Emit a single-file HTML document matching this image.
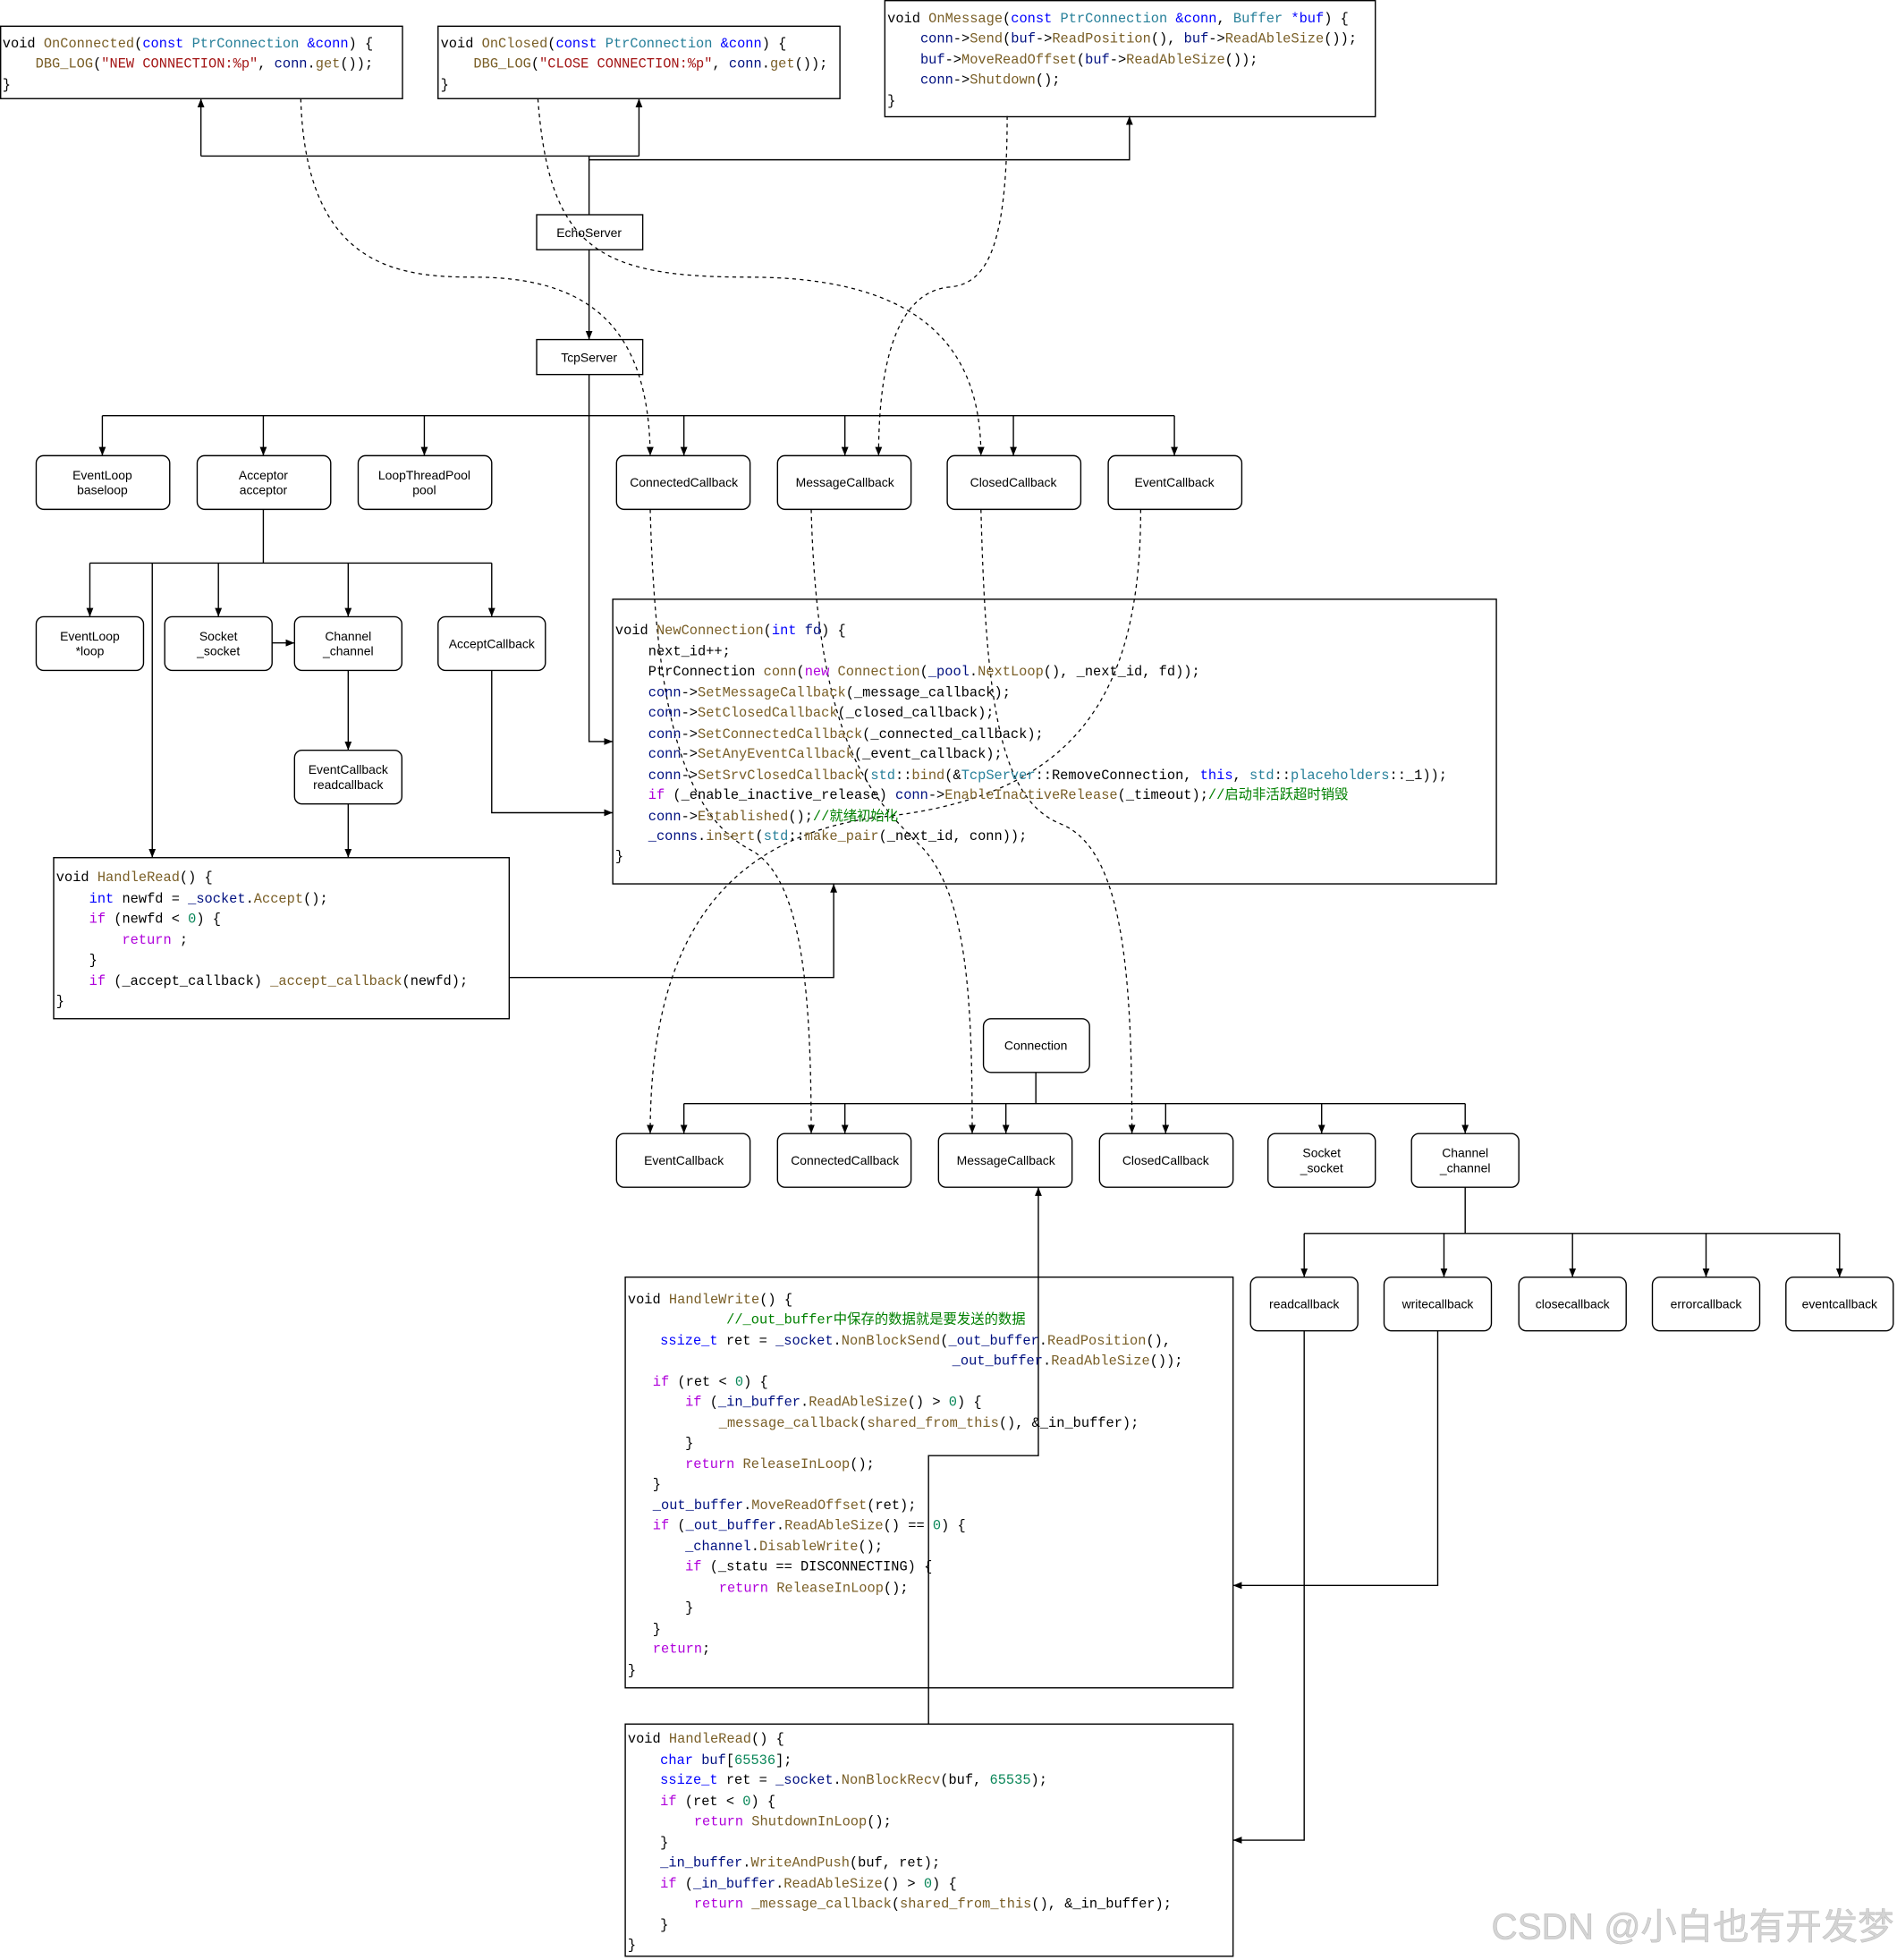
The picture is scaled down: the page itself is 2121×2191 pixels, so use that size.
<!DOCTYPE html>
<html><head><meta charset="utf-8"><style>
html,body{margin:0;padding:0;background:#fff;}
svg{display:block}
.m{font-family:"Liberation Mono","Noto Sans CJK SC",monospace;font-size:11px;fill:#000;white-space:pre}
.l{font-family:"Liberation Sans",sans-serif;font-size:10px;fill:#000;text-anchor:middle}
.k{fill:#af00db}.f{fill:#795e26}.t{fill:#0000ff}.c{fill:#267f99}.v{fill:#001080}.s{fill:#a31515}.n{fill:#098658}.g{fill:#008000}
.b{fill:#fff;stroke:#000;stroke-width:1}
.e{fill:none;stroke:#000;stroke-width:1}
.d{fill:none;stroke:#000;stroke-width:0.9;stroke-dasharray:3,3}
</style></head><body>
<svg width="2121" height="2191" viewBox="0 0 1520 1570" preserveAspectRatio="none" xmlns="http://www.w3.org/2000/svg">
<defs><marker id="a" viewBox="0 0 10 10" refX="10" refY="5" markerWidth="7" markerHeight="7" orient="auto" markerUnits="userSpaceOnUse"><path d="M0,1 L10,5 L0,9 Z" fill="#000"/></marker></defs>

<rect class="b" x="0.5" y="21" width="322" height="58"/>
<rect class="b" x="351" y="21" width="322" height="58"/>
<rect class="b" x="709" y="0.5" width="393" height="93"/>
<rect class="b" x="430" y="172" width="85" height="28"/>
<rect class="b" x="430" y="272" width="85" height="28"/>
<rect class="b" x="491" y="480" width="708" height="228"/>
<rect class="b" x="43" y="687" width="365" height="129"/>
<rect class="b" x="501" y="1023" width="487" height="329"/>
<rect class="b" x="501" y="1381" width="487" height="186"/>

<g class="b">
<rect x="29" y="365" width="107" height="43" rx="6"/>
<rect x="158" y="365" width="107" height="43" rx="6"/>
<rect x="287" y="365" width="107" height="43" rx="6"/>
<rect x="494" y="365" width="107" height="43" rx="6"/>
<rect x="623" y="365" width="107" height="43" rx="6"/>
<rect x="759" y="365" width="107" height="43" rx="6"/>
<rect x="888" y="365" width="107" height="43" rx="6"/>
<rect x="29" y="494" width="86" height="43" rx="6"/>
<rect x="132" y="494" width="86" height="43" rx="6"/>
<rect x="236" y="494" width="86" height="43" rx="6"/>
<rect x="351" y="494" width="86" height="43" rx="6"/>
<rect x="236" y="601" width="86" height="43" rx="6"/>
<rect x="788" y="816" width="85" height="43" rx="6"/>
<rect x="494" y="908" width="107" height="43" rx="6"/>
<rect x="623" y="908" width="107" height="43" rx="6"/>
<rect x="752" y="908" width="107" height="43" rx="6"/>
<rect x="881" y="908" width="107" height="43" rx="6"/>
<rect x="1016" y="908" width="86" height="43" rx="6"/>
<rect x="1131" y="908" width="86" height="43" rx="6"/>
<rect x="1002" y="1023" width="86" height="43" rx="6"/>
<rect x="1109" y="1023" width="86" height="43" rx="6"/>
<rect x="1217" y="1023" width="86" height="43" rx="6"/>
<rect x="1324" y="1023" width="86" height="43" rx="6"/>
<rect x="1431" y="1023" width="86" height="43" rx="6"/>
</g>

<g class="e">
<path d="M472,172 V125 M161,125 H512" />
<path d="M161,125 V79" marker-end="url(#a)"/>
<path d="M512,125 V79" marker-end="url(#a)"/>
<path d="M472,128 H905 V93" marker-end="url(#a)"/>
<path d="M472,200 V272" marker-end="url(#a)"/>
<path d="M472,300 V333 M82,333 H941"/>
<path d="M82,333 V365" marker-end="url(#a)"/>
<path d="M211,333 V365" marker-end="url(#a)"/>
<path d="M340,333 V365" marker-end="url(#a)"/>
<path d="M548,333 V365" marker-end="url(#a)"/>
<path d="M677,333 V365" marker-end="url(#a)"/>
<path d="M812,333 V365" marker-end="url(#a)"/>
<path d="M941,333 V365" marker-end="url(#a)"/>
<path d="M472,333 V594 H491" marker-end="url(#a)"/>
<path d="M211,408 V451 M72,451 H394"/>
<path d="M72,451 V494" marker-end="url(#a)"/>
<path d="M175,451 V494" marker-end="url(#a)"/>
<path d="M279,451 V494" marker-end="url(#a)"/>
<path d="M394,451 V494" marker-end="url(#a)"/>
<path d="M122,451 V687" marker-end="url(#a)"/>
<path d="M218,515 H236" marker-end="url(#a)"/>
<path d="M279,537 V601" marker-end="url(#a)"/>
<path d="M279,644 V687" marker-end="url(#a)"/>
<path d="M394,537 V651 H491" marker-end="url(#a)"/>
<path d="M408,783 H668 V708" marker-end="url(#a)"/>
<path d="M830,859 V884 M548,884 H1174"/>
<path d="M548,884 V908" marker-end="url(#a)"/>
<path d="M677,884 V908" marker-end="url(#a)"/>
<path d="M806,884 V908" marker-end="url(#a)"/>
<path d="M934,884 V908" marker-end="url(#a)"/>
<path d="M1059,884 V908" marker-end="url(#a)"/>
<path d="M1174,884 V908" marker-end="url(#a)"/>
<path d="M1174,951 V988 M1045,988 H1474"/>
<path d="M1045,988 V1023" marker-end="url(#a)"/>
<path d="M1157,988 V1023" marker-end="url(#a)"/>
<path d="M1260,988 V1023" marker-end="url(#a)"/>
<path d="M1367,988 V1023" marker-end="url(#a)"/>
<path d="M1474,988 V1023" marker-end="url(#a)"/>
<path d="M1152,1066 V1270 H988" marker-end="url(#a)"/>
<path d="M1045,1066 V1474 H988" marker-end="url(#a)"/>
<path d="M744,1381 V1166 H832 V951" marker-end="url(#a)"/>
</g>

<g class="d">
<path d="M241,79 C245,215 320,222 380,222 C470,222 520,260 521,365" marker-end="url(#a)"/>
<path d="M431,79 C440,200 480,222 600,222 C740,222 786,280 786,365" marker-end="url(#a)"/>
<path d="M807,93 C807,200 790,228 760,230 C715,235 704,300 704,365" marker-end="url(#a)"/>
<path d="M521,408 C525,560 545,650 600,680 C640,700 650,780 650,908" marker-end="url(#a)"/>
<path d="M650,408 C655,600 700,640 740,680 C775,720 779,800 779,908" marker-end="url(#a)"/>
<path d="M786,408 C790,560 800,640 850,660 C900,680 907,780 907,908" marker-end="url(#a)"/>
<path d="M914,408 C914,560 860,640 700,655 C560,675 521,780 521,908" marker-end="url(#a)"/>
</g>

<text class="l" x="472" y="190">EchoServer</text>
<text class="l" x="472" y="290">TcpServer</text>
<text class="l" x="82" y="384">EventLoop</text><text class="l" x="82" y="396">baseloop</text>
<text class="l" x="211" y="384">Acceptor</text><text class="l" x="211" y="396">acceptor</text>
<text class="l" x="340" y="384">LoopThreadPool</text><text class="l" x="340" y="396">pool</text>
<text class="l" x="548" y="390">ConnectedCallback</text>
<text class="l" x="677" y="390">MessageCallback</text>
<text class="l" x="812" y="390">ClosedCallback</text>
<text class="l" x="941" y="390">EventCallback</text>
<text class="l" x="72" y="513">EventLoop</text><text class="l" x="72" y="525">*loop</text>
<text class="l" x="175" y="513">Socket</text><text class="l" x="175" y="525">_socket</text>
<text class="l" x="279" y="513">Channel</text><text class="l" x="279" y="525">_channel</text>
<text class="l" x="394" y="519">AcceptCallback</text>
<text class="l" x="279" y="620">EventCallback</text><text class="l" x="279" y="632">readcallback</text>
<text class="l" x="830" y="841">Connection</text>
<text class="l" x="548" y="933">EventCallback</text>
<text class="l" x="677" y="933">ConnectedCallback</text>
<text class="l" x="806" y="933">MessageCallback</text>
<text class="l" x="934" y="933">ClosedCallback</text>
<text class="l" x="1059" y="927">Socket</text><text class="l" x="1059" y="939">_socket</text>
<text class="l" x="1174" y="927">Channel</text><text class="l" x="1174" y="939">_channel</text>
<text class="l" x="1045" y="1048">readcallback</text>
<text class="l" x="1152" y="1048">writecallback</text>
<text class="l" x="1260" y="1048">closecallback</text>
<text class="l" x="1367" y="1048">errorcallback</text>
<text class="l" x="1474" y="1048">eventcallback</text>

<g class="m">
<text x="2" y="38">void <tspan class="f">OnConnected</tspan>(<tspan class="t">const</tspan> <tspan class="c">PtrConnection</tspan> <tspan class="t">&amp;conn</tspan>) {</text>
<text x="2" y="54">&#160;&#160;&#160;&#160;<tspan class="f">DBG_LOG</tspan>(<tspan class="s">"NEW CONNECTION:%p"</tspan>, <tspan class="v">conn</tspan>.<tspan class="f">get</tspan>());</text>
<text x="2" y="71">}</text>

<text x="353" y="38">void <tspan class="f">OnClosed</tspan>(<tspan class="t">const</tspan> <tspan class="c">PtrConnection</tspan> <tspan class="t">&amp;conn</tspan>) {</text>
<text x="353" y="54">&#160;&#160;&#160;&#160;<tspan class="f">DBG_LOG</tspan>(<tspan class="s">"CLOSE CONNECTION:%p"</tspan>, <tspan class="v">conn</tspan>.<tspan class="f">get</tspan>());</text>
<text x="353" y="71">}</text>

<text x="711" y="18">void <tspan class="f">OnMessage</tspan>(<tspan class="t">const</tspan> <tspan class="c">PtrConnection</tspan> <tspan class="t">&amp;conn</tspan>, <tspan class="c">Buffer</tspan> <tspan class="t">*buf</tspan>) {</text>
<text x="711" y="34">&#160;&#160;&#160;&#160;<tspan class="v">conn</tspan>-&gt;<tspan class="f">Send</tspan>(<tspan class="v">buf</tspan>-&gt;<tspan class="f">ReadPosition</tspan>(), <tspan class="v">buf</tspan>-&gt;<tspan class="f">ReadAbleSize</tspan>());</text>
<text x="711" y="51">&#160;&#160;&#160;&#160;<tspan class="v">buf</tspan>-&gt;<tspan class="f">MoveReadOffset</tspan>(<tspan class="v">buf</tspan>-&gt;<tspan class="f">ReadAbleSize</tspan>());</text>
<text x="711" y="67">&#160;&#160;&#160;&#160;<tspan class="v">conn</tspan>-&gt;<tspan class="f">Shutdown</tspan>();</text>
<text x="711" y="84">}</text>

<text x="493" y="508">void <tspan class="f">NewConnection</tspan>(<tspan class="t">int</tspan> <tspan class="v">fd</tspan>) {</text>
<text x="493" y="525">&#160;&#160;&#160;&#160;next_id++;</text>
<text x="493" y="541">&#160;&#160;&#160;&#160;PtrConnection <tspan class="f">conn</tspan>(<tspan class="k">new</tspan> <tspan class="f">Connection</tspan>(<tspan class="v">_pool</tspan>.<tspan class="f">NextLoop</tspan>(), _next_id, fd));</text>
<text x="493" y="558">&#160;&#160;&#160;&#160;<tspan class="v">conn</tspan>-&gt;<tspan class="f">SetMessageCallback</tspan>(_message_callback);</text>
<text x="493" y="574">&#160;&#160;&#160;&#160;<tspan class="v">conn</tspan>-&gt;<tspan class="f">SetClosedCallback</tspan>(_closed_callback);</text>
<text x="493" y="591">&#160;&#160;&#160;&#160;<tspan class="v">conn</tspan>-&gt;<tspan class="f">SetConnectedCallback</tspan>(_connected_callback);</text>
<text x="493" y="607">&#160;&#160;&#160;&#160;<tspan class="v">conn</tspan>-&gt;<tspan class="f">SetAnyEventCallback</tspan>(_event_callback);</text>
<text x="493" y="624">&#160;&#160;&#160;&#160;<tspan class="v">conn</tspan>-&gt;<tspan class="f">SetSrvClosedCallback</tspan>(<tspan class="c">std</tspan>::<tspan class="f">bind</tspan>(&amp;<tspan class="c">TcpServer</tspan>::RemoveConnection, <tspan class="t">this</tspan>, <tspan class="c">std</tspan>::<tspan class="c">placeholders</tspan>::_1));</text>
<text x="493" y="640">&#160;&#160;&#160;&#160;<tspan class="k">if</tspan> (_enable_inactive_release) <tspan class="v">conn</tspan>-&gt;<tspan class="f">EnableInactiveRelease</tspan>(_timeout);<tspan class="g">//启动非活跃超时销毁</tspan></text>
<text x="493" y="657">&#160;&#160;&#160;&#160;<tspan class="v">conn</tspan>-&gt;<tspan class="f">Established</tspan>();<tspan class="g">//就绪初始化</tspan></text>
<text x="493" y="673">&#160;&#160;&#160;&#160;<tspan class="v">_conns</tspan>.<tspan class="f">insert</tspan>(<tspan class="c">std</tspan>::<tspan class="f">make_pair</tspan>(_next_id, conn));</text>
<text x="493" y="689">}</text>

<text x="45" y="706">void <tspan class="f">HandleRead</tspan>() {</text>
<text x="45" y="723">&#160;&#160;&#160;&#160;<tspan class="t">int</tspan> newfd = <tspan class="v">_socket</tspan>.<tspan class="f">Accept</tspan>();</text>
<text x="45" y="739">&#160;&#160;&#160;&#160;<tspan class="k">if</tspan> (newfd &lt; <tspan class="n">0</tspan>) {</text>
<text x="45" y="756">&#160;&#160;&#160;&#160;&#160;&#160;&#160;&#160;<tspan class="k">return</tspan> ;</text>
<text x="45" y="772">&#160;&#160;&#160;&#160;}</text>
<text x="45" y="789">&#160;&#160;&#160;&#160;<tspan class="k">if</tspan> (_accept_callback) <tspan class="f">_accept_callback</tspan>(newfd);</text>
<text x="45" y="805">}</text>

<text x="503" y="1044">void <tspan class="f">HandleWrite</tspan>() {</text>
<text x="582" y="1060"><tspan class="g">//_out_buffer中保存的数据就是要发送的数据</tspan></text>
<text x="529" y="1077"><tspan class="t">ssize_t</tspan> ret = <tspan class="v">_socket</tspan>.<tspan class="f">NonBlockSend</tspan>(<tspan class="v">_out_buffer</tspan>.<tspan class="f">ReadPosition</tspan>(),</text>
<text x="763" y="1093"><tspan class="v">_out_buffer</tspan>.<tspan class="f">ReadAbleSize</tspan>());</text>
<text x="523" y="1110"><tspan class="k">if</tspan> (ret &lt; <tspan class="n">0</tspan>) {</text>
<text x="549" y="1126"><tspan class="k">if</tspan> (<tspan class="v">_in_buffer</tspan>.<tspan class="f">ReadAbleSize</tspan>() &gt; <tspan class="n">0</tspan>) {</text>
<text x="576" y="1143"><tspan class="f">_message_callback</tspan>(<tspan class="f">shared_from_this</tspan>(), &amp;_in_buffer);</text>
<text x="549" y="1159">}</text>
<text x="549" y="1176"><tspan class="k">return</tspan> <tspan class="f">ReleaseInLoop</tspan>();</text>
<text x="523" y="1192">}</text>
<text x="523" y="1209"><tspan class="v">_out_buffer</tspan>.<tspan class="f">MoveReadOffset</tspan>(ret);</text>
<text x="523" y="1225"><tspan class="k">if</tspan> (<tspan class="v">_out_buffer</tspan>.<tspan class="f">ReadAbleSize</tspan>() == <tspan class="n">0</tspan>) {</text>
<text x="549" y="1242"><tspan class="v">_channel</tspan>.<tspan class="f">DisableWrite</tspan>();</text>
<text x="549" y="1258"><tspan class="k">if</tspan> (_statu == DISCONNECTING) {</text>
<text x="576" y="1275"><tspan class="k">return</tspan> <tspan class="f">ReleaseInLoop</tspan>();</text>
<text x="549" y="1291">}</text>
<text x="523" y="1308">}</text>
<text x="523" y="1324"><tspan class="k">return</tspan>;</text>
<text x="503" y="1341">}</text>

<text x="503" y="1396">void <tspan class="f">HandleRead</tspan>() {</text>
<text x="529" y="1413"><tspan class="t">char</tspan> <tspan class="v">buf</tspan>[<tspan class="n">65536</tspan>];</text>
<text x="529" y="1429"><tspan class="t">ssize_t</tspan> ret = <tspan class="v">_socket</tspan>.<tspan class="f">NonBlockRecv</tspan>(buf, <tspan class="n">65535</tspan>);</text>
<text x="529" y="1446"><tspan class="k">if</tspan> (ret &lt; <tspan class="n">0</tspan>) {</text>
<text x="556" y="1462"><tspan class="k">return</tspan> <tspan class="f">ShutdownInLoop</tspan>();</text>
<text x="529" y="1479">}</text>
<text x="529" y="1495"><tspan class="v">_in_buffer</tspan>.<tspan class="f">WriteAndPush</tspan>(buf, ret);</text>
<text x="529" y="1512"><tspan class="k">if</tspan> (<tspan class="v">_in_buffer</tspan>.<tspan class="f">ReadAbleSize</tspan>() &gt; <tspan class="n">0</tspan>) {</text>
<text x="556" y="1528"><tspan class="k">return</tspan> <tspan class="f">_message_callback</tspan>(<tspan class="f">shared_from_this</tspan>(), &amp;_in_buffer);</text>
<text x="529" y="1545">}</text>
<text x="503" y="1561">}</text>
</g>

<text x="1195" y="1553" style="font-family:'Liberation Sans','Noto Sans CJK SC',sans-serif;font-size:29px;fill:#d4d4d4;stroke:#bbb;stroke-width:0.4">CSDN @小白也有开发梦</text>
</svg>
</body></html>
